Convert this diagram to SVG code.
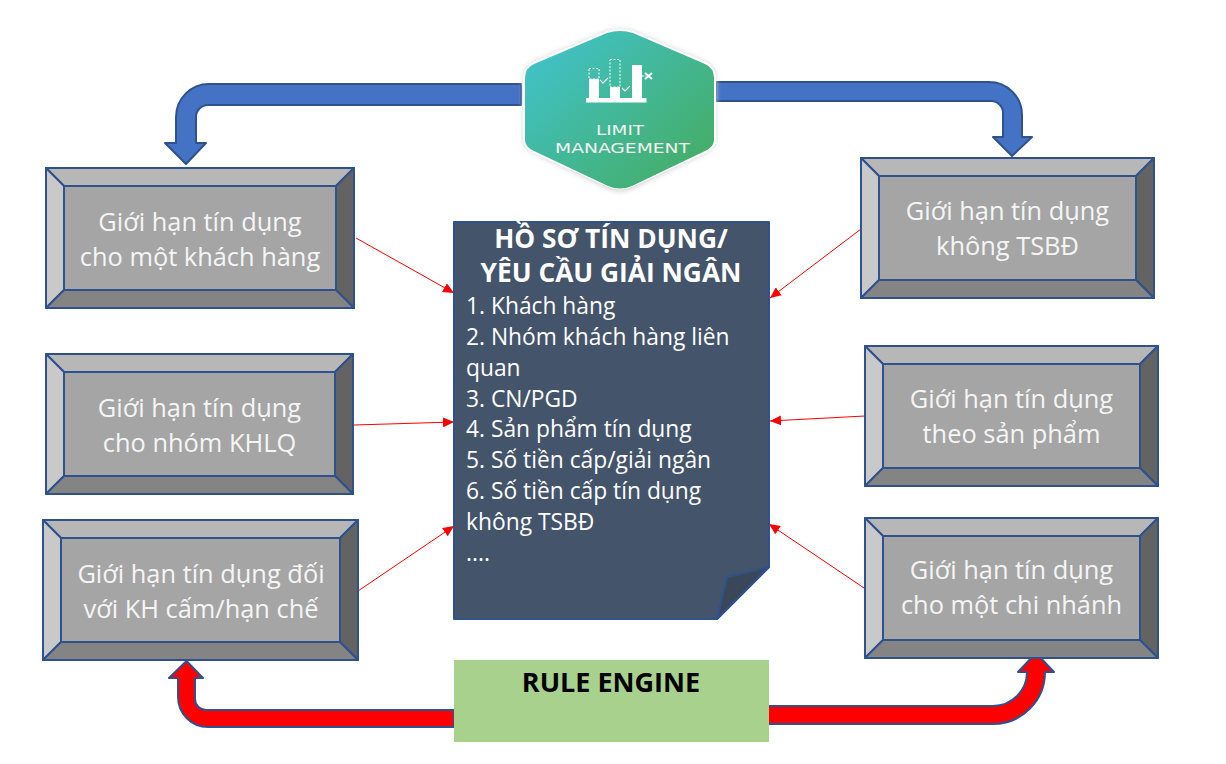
<svg xmlns="http://www.w3.org/2000/svg" width="1226" height="764" viewBox="0 0 1226 764">
<style>
text{font-family:"Open Sans","Noto Sans","Liberation Sans",sans-serif}
.bt{font-size:25.4px;fill:#f5f5f5;text-anchor:middle}
.dl{font-size:22.800px;fill:#fff}
.dt{font-size:26.300px;font-weight:700;fill:#fff;text-anchor:middle}
.s{stroke:#2f528f;stroke-width:2;stroke-linejoin:round}
.top{fill:#b7b7b7}.lf{fill:#c9c9c9}.rt{fill:#636363}.bm{fill:#848484}.fc{fill:#a5a5a5}
.red{stroke:#f00;stroke-width:1;fill:none;marker-end:url(#ah)}
.ic{fill:#fff}
.icd{fill:none;stroke:#fff;stroke-width:1;stroke-dasharray:2 1.5}
.hl{font-family:"DejaVu Sans",sans-serif;fill:#f2f2f2}
</style>
<defs>
<marker id="ah" markerUnits="userSpaceOnUse" markerWidth="12" markerHeight="10" refX="11" refY="5" orient="auto"><path d="M0 0L11 5L0 10Z" fill="#f00"/></marker>
<linearGradient id="hx" x1="0.05" y1="0.2" x2="0.85" y2="0.9"><stop offset="0" stop-color="#40c1c4"/><stop offset="1" stop-color="#45ae6a"/></linearGradient>
<filter id="gl" x="-10%" y="-10%" width="120%" height="120%"><feGaussianBlur stdDeviation="2.500"/></filter>
</defs>
<g id="connectors">
<path class="s" fill="#4472c4" d="M521 84H209A33 33 0 0 0 176 117V143H165L186 164L206 143H196V117A12 12 0 0 1 208 105H521Z"/>
<path class="s" fill="#4472c4" d="M716 82H989A33 33 0 0 1 1022 115V137H1032L1012 156L993 137H1003V113A12 12 0 0 0 991 101H716Z"/>
<path class="s" fill="#f00" d="M454 710H206A11 11 0 0 1 195 699V678H203L186.500 661L169 678H178V697A30 30 0 0 0 208 727H454Z"/>
<path class="s" fill="#f00" d="M768 706H993A34 34 0 0 0 1027 672H1018L1036 653L1054 672H1045A52 52 0 0 1 993 724H768Z"/>
<path class="red" d="M356 238L454 293"/>
<path class="red" d="M354 425L454 422"/>
<path class="red" d="M358 591L454 526"/>
<path class="red" d="M861 229L770 298"/>
<path class="red" d="M865 416L770 421"/>
<path class="red" d="M864 588L769 524"/>
</g>
<g id="limit-management">
<path d="M607 31Q620 27 633 31L706 62Q716 67 716 78V140Q716 148 706 153L632 189Q620 194 608 189L533 153Q523 148 523 140V78Q523 67 533 62Z" fill="#d4d8d8" filter="url(#gl)"/>
<path d="M607 31Q620 27 633 31L706 62Q716 67 716 78V140Q716 148 706 153L632 187Q620 192 608 187L533 153Q523 148 523 140V78Q523 67 533 62Z" fill="#fff"/>
<path d="M607 33Q620 29 633 33L705 64Q714 68 714 78V140Q714 147 705 151L632 186Q620 191 608 186L534 151Q525 147 525 140V78Q525 68 534 64Z" fill="url(#hx)"/>
<rect class="ic" x="586" y="98" width="60.500" height="4.500"/>
<rect class="ic" x="589" y="79" width="10" height="19"/>
<rect class="ic" x="610" y="87" width="10" height="12"/>
<rect class="ic" x="632" y="65" width="10" height="33"/>
<rect class="icd" x="589" y="68.500" width="10" height="10.500"/>
<rect class="icd" x="610" y="59.500" width="10" height="27.500"/>
<path class="icd" d="M642 76H646"/>
<path d="M600 80L603 83L608 78M622 88L625 91L630 86" fill="none" stroke="#fff" stroke-width="1.200"/>
<path d="M645 73L652 79M652 73L645 79" fill="none" stroke="#fff" stroke-width="2"/>
<text class="hl" x="620" y="135" font-size="14" text-anchor="middle" textLength="48" lengthAdjust="spacingAndGlyphs">LIMIT</text>
<text class="hl" x="622.500" y="153" font-size="14.500" text-anchor="middle" textLength="135" lengthAdjust="spacingAndGlyphs">MANAGEMENT</text>
</g>
<g id="box-1" class="s">
<path class="top" d="M46 168H354L336 186H64Z"/><path class="lf" d="M46 168L64 186V290L46 308Z"/><path class="rt" d="M354 168V308L336 290V186Z"/><path class="bm" d="M46 308L64 290H336L354 308Z"/><rect class="fc" x="64" y="186" width="272" height="104"/>
<text class="bt" stroke="none" x="200" y="231">Giới hạn tín dụng</text><text class="bt" stroke="none" x="200" y="266">cho một khách hàng</text>
</g>
<g id="box-2" class="s">
<path class="top" d="M46 354H353L335 372H64Z"/><path class="lf" d="M46 354L64 372V476L46 494Z"/><path class="rt" d="M353 354V494L335 476V372Z"/><path class="bm" d="M46 494L64 476H335L353 494Z"/><rect class="fc" x="64" y="372" width="271" height="104"/>
<text class="bt" stroke="none" x="199.500" y="417">Giới hạn tín dụng</text><text class="bt" stroke="none" x="199.500" y="452">cho nhóm KHLQ</text>
</g>
<g id="box-3" class="s">
<path class="top" d="M43 520H358L340 538H61Z"/><path class="lf" d="M43 520L61 538V642L43 660Z"/><path class="rt" d="M358 520V660L340 642V538Z"/><path class="bm" d="M43 660L61 642H340L358 660Z"/><rect class="fc" x="61" y="538" width="279" height="104"/>
<text class="bt" stroke="none" x="201" y="583">Giới hạn tín dụng đối</text><text class="bt" stroke="none" x="201" y="618">với KH cấm/hạn chế</text>
</g>
<g id="box-4" class="s">
<path class="top" d="M861 158H1154L1136 176H879Z"/><path class="lf" d="M861 158L879 176V280L861 298Z"/><path class="rt" d="M1154 158V298L1136 280V176Z"/><path class="bm" d="M861 298L879 280H1136L1154 298Z"/><rect class="fc" x="879" y="176" width="257" height="104"/>
<text class="bt" stroke="none" x="1007.500" y="220">Giới hạn tín dụng</text><text class="bt" stroke="none" x="1007.500" y="255">không TSBĐ</text>
</g>
<g id="box-5" class="s">
<path class="top" d="M865 346H1158L1140 364H883Z"/><path class="lf" d="M865 346L883 364V468L865 486Z"/><path class="rt" d="M1158 346V486L1140 468V364Z"/><path class="bm" d="M865 486L883 468H1140L1158 486Z"/><rect class="fc" x="883" y="364" width="257" height="104"/>
<text class="bt" stroke="none" x="1011.500" y="408">Giới hạn tín dụng</text><text class="bt" stroke="none" x="1011.500" y="443">theo sản phẩm</text>
</g>
<g id="box-6" class="s">
<path class="top" d="M865 518H1158L1140 536H883Z"/><path class="lf" d="M865 518L883 536V640L865 658Z"/><path class="rt" d="M1158 518V658L1140 640V536Z"/><path class="bm" d="M865 658L883 640H1140L1158 658Z"/><rect class="fc" x="883" y="536" width="257" height="104"/>
<text class="bt" stroke="none" x="1011.500" y="579">Giới hạn tín dụng</text><text class="bt" stroke="none" x="1011.500" y="614">cho một chi nhánh</text>
</g>
<g id="document">
<path class="s" fill="#44546a" d="M454 222H769V567L717 619H454Z"/>
<path class="s" fill="#3a4759" d="M769 567L727 577L717 619Z"/>
<text class="dt" x="611" y="248">HỒ SƠ TÍN DỤNG/</text>
<text class="dt" x="611" y="282">YÊU CẦU GIẢI NGÂN</text>
<text class="dl" x="466" y="314">1. Khách hàng</text>
<text class="dl" x="466" y="345">2. Nhóm khách hàng liên</text>
<text class="dl" x="466" y="376">quan</text>
<text class="dl" x="466" y="407">3. CN/PGD</text>
<text class="dl" x="466" y="437">4. Sản phẩm tín dụng</text>
<text class="dl" x="466" y="468">5. Số tiền cấp/giải ngân</text>
<text class="dl" x="466" y="499">6. Số tiền cấp tín dụng</text>
<text class="dl" x="466" y="530">không TSBĐ</text>
<text class="dl" x="466" y="561">....</text>
</g>
<g id="rule-engine">
<rect x="454" y="660" width="315" height="82" fill="#a9d18e"/>
<text x="611" y="692" font-size="27" font-weight="700" fill="#000" text-anchor="middle">RULE ENGINE</text>
</g>
</svg>
